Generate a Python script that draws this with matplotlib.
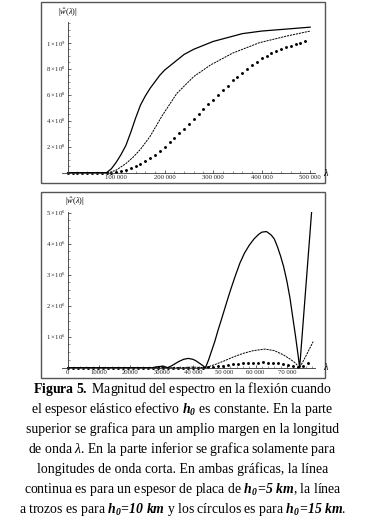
import numpy as np
import matplotlib
matplotlib.use("Agg")
import matplotlib.pyplot as plt
from matplotlib.patches import Rectangle
from matplotlib.ticker import FixedLocator, MultipleLocator

plt.rcParams['font.family'] = ['Liberation Serif', 'DejaVu Serif']
plt.rcParams['mathtext.fontset'] = 'custom'
plt.rcParams['mathtext.rm'] = 'Liberation Serif'
plt.rcParams['mathtext.it'] = 'Liberation Serif:italic'
plt.rcParams['mathtext.bf'] = 'Liberation Serif:bold'
try:
    plt.rcParams['mathtext.bfit'] = 'Liberation Serif:italic:bold'
    BFIT = r'\mathbfit'
except KeyError:
    BFIT = r'\mathbf'

# ---- upper panel: wide range of wavelengths (values x 1e9) ----
top_lam_h5 = [0, 80000, 90000, 100000, 110000, 120000, 130000, 140000, 150000, 160000,
              170000, 180000, 190000, 200000, 220000, 240000, 260000, 280000, 300000,
              330000, 360000, 400000, 450000, 500000]
top_h5 = [0, 0, 0.03, 0.08, 0.14, 0.21, 0.31, 0.42, 0.52, 0.59,
          0.65, 0.70, 0.75, 0.79, 0.85, 0.91, 0.95, 0.98, 1.01,
          1.04, 1.07, 1.09, 1.105, 1.12]

top_lam_h10 = [0, 85000, 100000, 120000, 135000, 150000, 170000, 195000, 225000,
               260000, 295000, 340000, 395000, 450000, 500000]
top_h10 = [0, 0, 0.02, 0.07, 0.12, 0.18, 0.28, 0.44, 0.61,
           0.74, 0.83, 0.92, 1.0, 1.05, 1.09]

top_lam_h15 = [i * 10000 for i in range(50)]
top_h15 = [0, 0, 0, 0, 0, 0, 0, 0, 0, 0,
           0.005, 0.01, 0.02, 0.035, 0.05, 0.07, 0.09, 0.115, 0.14, 0.17,
           0.20, 0.235, 0.27, 0.305, 0.34, 0.375, 0.41, 0.45, 0.49, 0.525,
           0.56, 0.60, 0.635, 0.67, 0.71, 0.74, 0.77, 0.80, 0.83, 0.855,
           0.88, 0.90, 0.92, 0.935, 0.95, 0.965, 0.975, 0.99, 1.0, 1.01]

top_xticks = [100000, 200000, 300000, 400000, 500000]
top_xlabels = ['100 000', '200 000', '300 000', '400 000', '500 000']
top_yticks = [0.2, 0.4, 0.6, 0.8, 1.0]
top_ylabels = [r'$2\times10^{8}$', r'$4\times10^{8}$', r'$6\times10^{8}$',
               r'$8\times10^{8}$', r'$1\times10^{9}$']

# ---- lower panel: short wavelengths (values x 1e6) ----
bot_lam_h5 = [0, 27000, 28500, 30500, 32000, 33500, 35500, 37000, 38500, 40000, 41000,
              43000, 44000, 45000, 46000, 47000, 48000, 49000, 50000, 51000, 52000,
              53500, 55000, 56500, 58000, 59500, 61000, 62000, 63500, 65000, 66000,
              67000, 68000, 69000, 70000, 71000, 71500, 72800, 73600, 74100, 76000, 77900]
bot_h5 = [0, 0, 0.03, 0.05, 0, 0.08, 0.2, 0.27, 0.30, 0.27, 0.22,
          0.08, 0, 0.25, 0.55, 0.85, 1.2, 1.52, 1.85, 2.18, 2.5,
          2.95, 3.37, 3.7, 3.95, 4.15, 4.3, 4.37, 4.39, 4.28, 4.15,
          3.9, 3.6, 3.25, 2.8, 2.25, 1.9, 1.0, 0.4, 0, 2.5, 5.0]

bot_lam_h10 = [0, 36000, 40000, 44000, 47000, 50000, 53000, 56000, 59300, 63000,
               66000, 68800, 71000, 72500, 74100, 76000, 78400]
bot_h10 = [0, 0, 0.02, 0, 0.1, 0.22, 0.35, 0.46, 0.55, 0.6,
           0.55, 0.42, 0.28, 0.17, 0, 0.36, 0.84]

bot_lam_h15 = [i * 1600 for i in range(49)]
bot_h15 = [0] * 28 + [0.01, 0.03, 0.05, 0.07, 0.09, 0.11, 0.12, 0.14, 0.15, 0.16,
                      0.165, 0.17, 0.165, 0.16, 0.15, 0.13, 0.10, 0.06, 0.02, 0.07, 0.15]

bot_xticks = [0, 10000, 20000, 30000, 40000, 50000, 60000, 70000]
bot_xlabels = ['0', '10000', '20000', '30000', '40 000', '50 000', '60 000', '70 000']
bot_yticks = [1, 2, 3, 4, 5]
bot_ylabels = [r'$%d\times10^{6}$' % v for v in bot_yticks]

H0 = r'%s{h}_{%s{0}}' % (BFIT, BFIT)
EQ = r'\!%s{=}\!' % BFIT
caption = [
    r'$\mathbf{Figura\ 5.}$ Magnitud del espectro en la flexión cuando',
    r'el espesor elástico efectivo $%s$ es constante. En la parte' % H0,
    'superior se grafica para un amplio margen en la longitud',
    r'de onda $\lambda$. En la parte inferior se grafica solamente para',
    'longitudes de onda corta. En ambas gráficas, la línea',
    r'continua es para un espesor de placa de $%s%s%s{5\ km}$, la línea' % (H0, EQ, BFIT),
    r'a trozos es para $%s%s%s{10\ km}$ y los círculos es para $%s%s%s{15\ km}$.'
    % (H0, EQ, BFIT, H0, EQ, BFIT),
]

W, H = 365, 522
fig = plt.figure(figsize=(W / 100, H / 100), dpi=100)


def px(x0, y0, x1, y1):
    # pixel box -> figure fraction rect
    return [x0 / W, 1 - y1 / H, (x1 - x0) / W, (y1 - y0) / H]


def style_axes(ax):
    for s in ['top', 'right']:
        ax.spines[s].set_visible(False)
    ax.spines['left'].set_position(('data', 0))
    ax.spines['bottom'].set_position(('data', 0))
    for s in ['left', 'bottom']:
        ax.spines[s].set_linewidth(0.6)
        ax.spines[s].set_color('#333333')
    ax.patch.set_alpha(0)
    ax.tick_params(which='major', direction='in', length=2.5, width=0.5,
                   labelsize=4.8, pad=1.5, colors='#222222')
    ax.tick_params(which='minor', direction='in', length=1.3, width=0.4, colors='#444444')


# frames around the two panels
for box in [(41, 2, 325, 183), (41, 192, 325, 378)]:
    r = Rectangle((box[0] / W, 1 - box[3] / H), (box[2] - box[0]) / W, (box[3] - box[1]) / H,
                  transform=fig.transFigure, fill=False, lw=1.0, ec='#555555')
    fig.patches.append(r)

# upper
ax1 = fig.add_axes(px(61.7, 21.7, 315, 172.7))
ax1.plot(top_lam_h5, top_h5, color='black', lw=0.9)
ax1.plot(top_lam_h10, top_h10, color='black', lw=0.7, ls=(0, (2.2, 0.9)))
ax1.plot(top_lam_h15, top_h15, 'o', color='black', ms=2.1, mew=0, clip_on=False)
ax1.set_xlim(-12400, 510000)
ax1.set_ylim(0, 1.162)
style_axes(ax1)
ax1.xaxis.set_major_locator(FixedLocator(top_xticks))
ax1.set_xticklabels(top_xlabels)
ax1.xaxis.set_minor_locator(MultipleLocator(20000))
ax1.yaxis.set_major_locator(FixedLocator(top_yticks))
ax1.set_yticklabels(top_ylabels)
ax1.yaxis.set_minor_locator(MultipleLocator(0.05))
fig.text(67.7 / W, 1 - 13 / H, r'$\left|\hat{w}(\lambda)\right|$', ha='center', va='center', fontsize=6)
fig.text(326 / W, 1 - 172 / H, r'$\lambda$', ha='center', va='center', fontsize=7.5)

# lower
ax2 = fig.add_axes(px(61.7, 211.7, 315, 367.7))
ax2.plot(bot_lam_h5, bot_h5, color='black', lw=0.9)
ax2.plot(bot_lam_h10, bot_h10, color='black', lw=0.7, ls=(0, (2.2, 0.9)))
ax2.plot(bot_lam_h15, bot_h15, 'o', color='black', ms=2.1, mew=0, clip_on=False)
ax2.set_xlim(-1920, 79000)
ax2.set_ylim(0, 5.03)
style_axes(ax2)
ax2.xaxis.set_major_locator(FixedLocator(bot_xticks))
ax2.set_xticklabels(bot_xlabels)
ax2.xaxis.set_minor_locator(MultipleLocator(2000))
ax2.yaxis.set_major_locator(FixedLocator(bot_yticks))
ax2.set_yticklabels(bot_ylabels)
ax2.yaxis.set_minor_locator(MultipleLocator(0.25))
fig.text(75 / W, 1 - 202 / H, r'$\left|\hat{w}(\lambda)\right|$', ha='center', va='center', fontsize=6)
fig.text(326 / W, 1 - 367 / H, r'$\lambda$', ha='center', va='center', fontsize=7.5)

# caption
for i, line in enumerate(caption):
    fig.text(0.5, 1 - (389 + 20 * i) / H, line, ha='center', va='center', fontsize=9.9)

fig.savefig('out.png', dpi=100)
